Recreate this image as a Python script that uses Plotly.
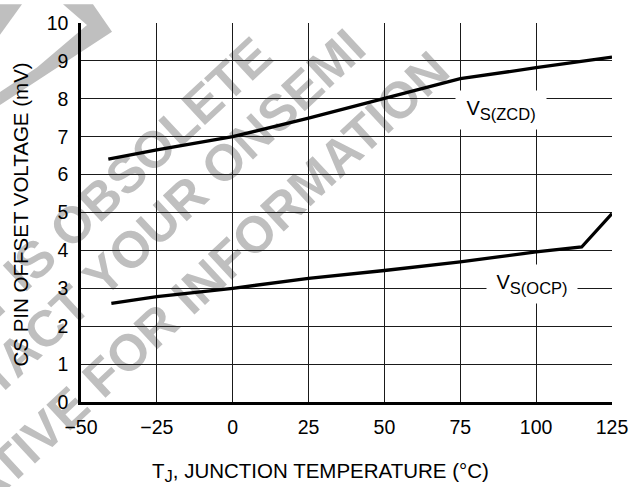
import plotly.graph_objects as go

# ---- data ----
temp_zcd = [-41, -25, 0, 25, 50, 75, 100, 125]
vs_zcd = [6.41, 6.65, 7.0, 7.49, 8.01, 8.53, 8.82, 9.1]

temp_ocp = [-40, -25, 0, 25, 50, 75, 100, 115, 125]
vs_ocp = [2.6, 2.78, 3.0, 3.26, 3.47, 3.70, 3.96, 4.09, 4.97]

x_ticks = [-50, -25, 0, 25, 50, 75, 100, 125]
y_ticks = list(range(0, 11))

# ---- layout geometry ----
W, H = 640, 487
L, R, T, B = 81, 28, 18, 85
PW, PH = W - L - R, H - T - B


def px(xp, yp):
    return (xp - L) / PW, (H - B - yp) / PH


FONT = "Liberation Sans, Arial, Helvetica, sans-serif"
GRAY = "#bfbfbf"

fig = go.Figure()
fig.add_trace(go.Scatter(x=temp_zcd, y=vs_zcd, mode="lines",
                         line=dict(color="black", width=3.3), showlegend=False))
fig.add_trace(go.Scatter(x=temp_ocp, y=vs_ocp, mode="lines",
                         line=dict(color="black", width=3.3), showlegend=False))

shapes = []
# watermark text lines (drawn below gridlines)
wm_lines = [
    ("PRODUCT IS OBSOLETE", (37, 249)),
    ("CONTACT YOUR ONSEMI", (126, 245)),
    ("REPRESENTATIVE FOR INFORMATION", (91, 380)),
]
for txt, (cx, cy) in wm_lines:
    x0, y0 = px(cx - 5, cy + 5)
    x1, y1 = px(cx + 5, cy - 5)
    shapes.append(dict(type="rect", xref="paper", yref="paper",
                       x0=x0, x1=x1, y0=y0, y1=y1, layer="below",
                       line=dict(width=0), fillcolor="rgba(0,0,0,0)",
                       label=dict(text=txt, textangle=-43, textposition="middle center",
                                  font=dict(family=FONT, size=51, color=GRAY, weight="bold"))))


def poly(points):
    pts = [px(a, b) for a, b in points]
    return "M " + " L ".join(f"{a:.4f},{b:.4f}" for a, b in pts) + " Z"


for pts in ([(63, -1), (93, -1), (112, 27), (0, 101), (0, 88), (37, 63), (87, 20)],
            [(0, -1), (22, -1), (0, 30)]):
    shapes.append(dict(type="path", xref="paper", yref="paper", path=poly(pts),
                       layer="below", line=dict(width=0), fillcolor=GRAY))

SUB = '<sub><span style="font-size:16.5px">{}</span></sub>'
annotations = [
    dict(x=88.4, y=7.71, xref="x", yref="y", text="V" + SUB.format("S(ZCD)"), showarrow=False,
         bgcolor="white", width=90, height=38, borderpad=0,
         font=dict(family=FONT, size=20, color="black")),
    dict(x=98.6, y=3.11, xref="x", yref="y", text="V" + SUB.format("S(OCP)"), showarrow=False,
         bgcolor="white", width=90, height=38, borderpad=0,
         font=dict(family=FONT, size=20, color="black")),
]
ax_x, ax_y = px(320, 473)
annotations.append(dict(x=ax_x, y=ax_y, xref="paper", yref="paper",
                        text="T" + SUB.format("J") + ", JUNCTION TEMPERATURE (°C)", showarrow=False,
                        xanchor="center", yanchor="middle",
                        font=dict(family=FONT, size=20.5, color="black")))
ay_x, ay_y = px(20, 212)
annotations.append(dict(x=ay_x, y=ay_y, xref="paper", yref="paper",
                        text="CS PIN OFFSET VOLTAGE (mV)", showarrow=False, textangle=-90,
                        xanchor="center", yanchor="middle",
                        font=dict(family=FONT, size=20.5, color="black")))

fig.update_layout(
    width=W, height=H,
    margin=dict(l=L, r=R, t=T, b=B, pad=0),
    paper_bgcolor="white", plot_bgcolor="rgba(0,0,0,0)",
    font=dict(family=FONT, color="black"),
    shapes=shapes, annotations=annotations, showlegend=False,
    xaxis=dict(range=[-50, 125], tickvals=x_ticks, showgrid=True, gridcolor="#1a1a1a",
               gridwidth=1.2, zeroline=False, showline=True, linecolor="black", linewidth=2.5,
               ticks="", ticklabelstandoff=6, tickfont=dict(size=19.5, family=FONT)),
    yaxis=dict(range=[0, 10], tickvals=y_ticks, showgrid=True, gridcolor="#1a1a1a",
               gridwidth=1.2, zeroline=False, showline=True, linecolor="black", linewidth=2.5,
               ticks="", ticklabelstandoff=6, tickfont=dict(size=19.5, family=FONT)),
)

fig.write_html("out.html", config={"displayModeBar": False},
               post_script="document.body.style.margin='0';document.body.style.padding='0';")
